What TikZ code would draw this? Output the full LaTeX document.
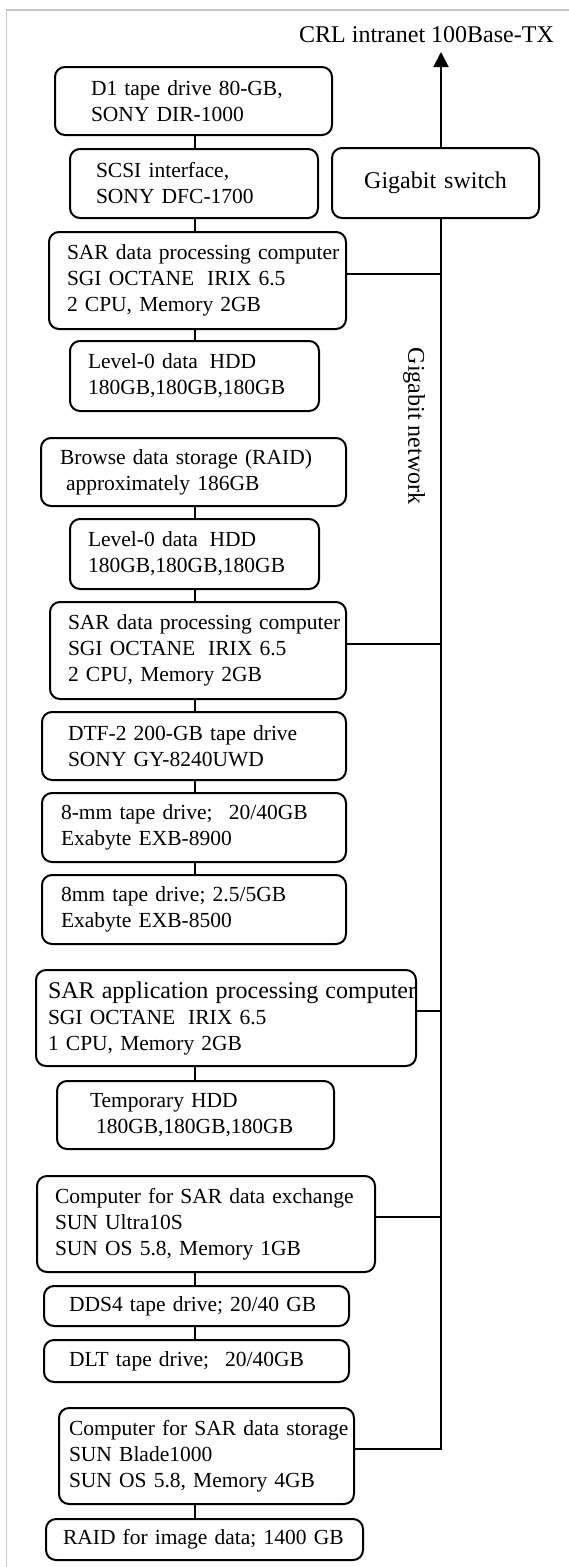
\documentclass[tikz,border=0pt]{standalone}
\usepackage{fontspec}
\setmainfont{Liberation Serif}
\usetikzlibrary{arrows.meta}

\begin{document}
\begin{tikzpicture}[
x=1pt, y=-1pt,
    U/.style n args = {3}{draw, rounded corners=10pt, line width=2pt,
                anchor=north west, align=left,
                font=\fontsize{21.5}{26}\selectfont,
                inner xsep=#1pt, text width=#2pt,% left margin, width of text
                minimum height=#3pt},
    W/.style = {line width=2pt},% wires between the boxes
    T/.style = {font=\fontsize{24}{28}\selectfont, inner sep=0pt},
                        ]
\useasboundingbox (0,0) rectangle (569,1567);
\draw[gray!45, line width=1.5pt] (6.5,1567) -- (6.5,10) -- (569,10);

\coordinate (col) at (195,0);
\coordinate (net) at (441,0);
\coordinate (tip) at (441,52);

\node[T, anchor=base west] (crl) at (299,42) {CRL intranet 100Base-TX};
\node[U={0}{207}{70}, align=center, font=\fontsize{24}{28}\selectfont] (sw) at (331,147) {Gigabit switch};
\node[T, rotate=-90] (gnet) at (414,426) {Gigabit network};

\node[U={36}{205}{68}] (d1) at (54,66) {D1 tape drive 80-GB,\\ SONY DIR-1000};
\node[U={26}{196}{69}] (scsi) at (69,148) {SCSI interface,\\ SONY DFC-1700};
\node[U={18}{261}{97}] (sar1) at (48,231) {\mbox{SAR data processing computer}\\ SGI OCTANE\hspace{.6em}IRIX 6.5\\ 2 CPU, Memory 2GB};
\node[U={18}{213}{70}] (hdd1) at (69,340) {Level-0 data\hspace{.55em}HDD\\ 180GB,180GB,180GB};
\node[U={19}{267}{68}] (brws) at (40,437) {Browse data storage (RAID)\\ \hspace*{6pt}approximately 186GB};
\node[U={18}{213}{70}] (hdd2) at (69,518) {Level-0 data\hspace{.55em}HDD\\ 180GB,180GB,180GB};
\node[U={18}{260}{97}] (sar2) at (49,601) {\mbox{SAR data processing computer}\\ SGI OCTANE\hspace{.6em}IRIX 6.5\\ 2 CPU, Memory 2GB};
\node[U={26}{252}{68}] (dtf) at (41,711) {DTF-2 200-GB tape drive\\ SONY GY-8240UWD};
\node[U={19}{266}{69}] (mma) at (41,792) {8-mm tape drive;\hspace{.75em}20/40GB\\ Exabyte EXB-8900};
\node[U={19}{266}{69}] (mmb) at (41,874) {8mm tape drive; 2.5/5GB\\ Exabyte EXB-8500};
\node[U={12}{356}{96}] (sarapp) at (35,969) {\mbox{\fontsize{24}{26}\selectfont SAR application processing computer}\\ SGI OCTANE\hspace{.6em}IRIX 6.5\\ 1 CPU, Memory 2GB};
\node[U={33}{211}{68}] (tmp) at (56,1080) {Temporary HDD\\ \hspace*{6pt}\mbox{180GB,180GB,180GB}};
\node[U={18}{302}{96}] (exch) at (36,1175) {\mbox{Computer for SAR data exchange}\\ SUN Ultra10S\\ SUN OS 5.8, Memory 1GB};
\node[U={25}{255}{40}] (dds) at (43,1285) {DDS4 tape drive; 20/40 GB};
\node[U={25}{255}{42}] (dlt) at (43,1339) {DLT tape drive;\hspace{.75em}20/40GB};
\node[U={10}{275}{96}] (stor) at (58,1407) {\mbox{Computer for SAR data storage}\\ SUN Blade1000\\ SUN OS 5.8, Memory 4GB};
\node[U={17}{283}{41}] (raid) at (45,1518) {\mbox{RAID for image data; 1400 GB}};

% local links down the stack
\foreach \a/\b in {d1/scsi,scsi/sar1,sar1/hdd1,brws/hdd2,hdd2/sar2,sar2/dtf,
                   dtf/mma,mma/mmb,sarapp/tmp,exch/dds,dds/dlt,stor/raid}
    \draw[W] (\a.south -| col) -- (\b.north -| col);

% gigabit network
\draw[W] ([yshift=7pt]stor.east) -| (sw.south -| net);
\foreach \c in {sar1,sar2,sarapp,exch}
    \draw[W] ([yshift=7pt]\c.east) -- ([yshift=7pt]\c.east -| net);
\draw[W, -{Triangle[length=15pt,width=15pt]}] (sw.north -| net) -- (tip);

\end{tikzpicture}
\end{document}
